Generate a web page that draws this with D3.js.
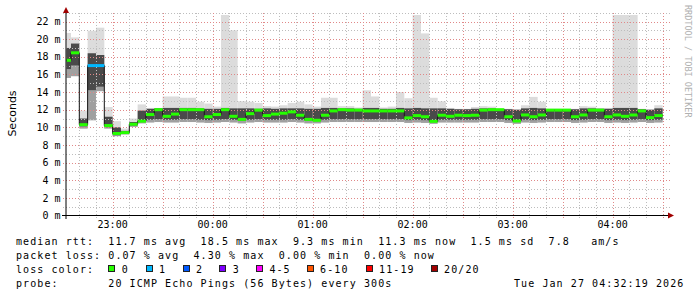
<!DOCTYPE html>
<html><head><meta charset="utf-8">
<script src="https://cdn.jsdelivr.net/npm/d3@7"></script>
<style>
body{margin:0;background:#fff}
svg{display:block}
text{white-space:pre}
</style>
</head><body><svg id="c" width="697" height="297"></svg>
<script>
// ---- data (5-minute bins, first bin ends 22:35) ----
const firstBinEnd = new Date(2026,0,26,22,35,0);
const stepMin = 5;
const medRtt = [17.6,18.45,10.3,17.0,17.0,10.2,9.3,9.4,10.35,10.7,
 11.45,12.0,11.25,11.5,12.0,12.0,12.0,11.2,11.45,12.0,
 11.25,10.9,11.55,11.95,11.33,11.5,11.6,11.75,11.37,10.9,
 10.8,11.37,11.86,12.0,11.95,11.95,11.86,11.86,11.86,11.86,
 11.86,11.07,11.33,11.2,10.68,11.37,11.25,11.37,11.33,11.37,
 11.95,12.0,12.0,11.2,10.72,11.4,11.2,11.4,11.95,11.95,
 11.95,11.2,11.4,11.95,11.95,11.2,11.4,11.25,11.4,11.86,
 11.1,11.33];
const maxRtt = [20.7,20.2,11.9,20.95,21.3,12.3,10.7,9.86,11.0,12.6,
 12.2,12.2,13.5,13.5,13.35,13.35,12.9,12.7,12.35,22.75,
 21.0,12.96,12.9,12.77,12.4,12.35,12.5,12.77,12.9,12.6,
 12.35,13.35,13.35,12.4,12.4,12.25,14.2,13.5,12.25,12.35,
 14.0,13.3,22.75,20.65,13.35,12.95,12.2,12.1,12.1,12.3,
 12.4,12.35,12.1,12.1,12.0,12.5,13.45,12.9,12.1,12.1,
 12.1,12.1,12.4,12.35,12.2,12.2,22.75,22.75,22.75,12.1,
 12.0,12.5];
const upperRtt = [19.0,19.5,11.0,18.4,18.2,11.2,10.0,9.6,10.6,11.9,
 12.1,12.15,12.2,12.2,12.2,12.2,12.15,12.1,12.1,12.2,
 12.15,12.15,12.15,12.1,12.15,12.1,12.15,12.15,12.15,12.1,
 12.1,12.2,12.2,12.15,12.15,12.1,12.2,12.2,12.1,12.1,
 12.2,12.15,12.2,12.15,12.15,12.15,12.1,12.05,12.05,12.1,
 12.15,12.15,12.05,12.05,12.0,12.15,12.2,12.15,12.05,12.05,
 12.05,12.05,12.15,12.15,12.1,12.1,12.2,12.2,12.2,12.05,
 12.0,12.15];
const lowerRtt = [16.6,17.0,10.1,14.2,14.6,10.0,9.1,9.3,10.2,10.6,
 10.85,10.9,10.85,10.85,10.9,10.9,10.85,10.8,10.85,10.9,
 10.85,10.75,10.85,10.9,10.85,10.85,10.85,10.9,10.85,10.75,
 10.7,10.85,10.9,10.9,10.9,10.9,10.9,10.9,10.9,10.9,
 10.9,10.8,10.85,10.8,10.6,10.85,10.85,10.85,10.85,10.85,
 10.9,10.9,10.9,10.8,10.6,10.85,10.8,10.85,10.9,10.9,
 10.9,10.8,10.85,10.9,10.9,10.8,10.85,10.8,10.85,10.9,
 10.8,10.85];
const minRtt = [15.6,15.8,9.86,10.8,14.1,9.86,9.0,9.2,10.05,10.45,
 10.55,10.6,10.55,10.55,10.6,10.6,10.55,10.5,10.55,10.6,
 10.55,10.45,10.55,10.6,10.55,10.55,10.55,10.6,10.55,10.45,
 10.45,10.55,10.6,10.6,10.6,10.6,10.6,10.6,10.6,10.6,
 10.6,10.5,10.55,10.5,10.4,10.55,10.55,10.55,10.55,10.55,
 10.6,10.6,10.6,10.5,10.4,10.55,10.5,10.55,10.6,10.6,
 10.6,10.5,10.55,10.6,10.6,10.5,10.55,10.5,10.55,10.6,
 10.5,10.55];
const lossPings = [0,0,0,1,1,0,0,0,0,0, 0,0,0,0,0,0,0,0,0,0,
 0,0,0,0,0,0,0,0,0,0, 0,0,0,0,0,0,0,0,0,0, 0,0,0,0,0,0,0,0,0,0,
 0,0,0,0,0,0,0,0,0,0, 0,0,0,0,0,0,0,0,0,0, 0,0];
const lossLabels = ["0","1","2","3","4-5","6-10","11-19","20/20"];
const lossLimits = [0,1,2,3,5,10,19,20];
const lossColors = ["#26ff00","#00b8ff","#0059ff","#7e00ff","#ff00ff","#ff5500","#ff0000","#a10000"];
const yTickValues = [0,2,4,6,8,10,12,14,16,18,20,22];
const statLines = [
 "median rtt:  11.7 ms avg  18.5 ms max  9.3 ms min  11.3 ms now  1.5 ms sd  7.8   am/s",
 "packet loss: 0.07 % avg  4.30 % max  0.00 % min  0.00 % now"
];
const probeLine = "probe:       20 ICMP Echo Pings (56 Bytes) every 300s";
const dateLine = "Tue Jan 27 04:32:19 2026";
const tStart = new Date(2026,0,26,22,32,19), tEnd = new Date(2026,0,27,4,32,19);

// ---- layout ----
const svg = d3.select("#c");
const X0 = 66.5, X1 = 666.5, Y0 = 215.5, PX_PER_MS = 8.818;
const x = d3.scaleTime().domain([tStart,tEnd]).range([X0,X1]);
const y = d3.scaleLinear().domain([0,23]).range([Y0, Y0-23*PX_PER_MS]);
const mono = "'DejaVu Sans Mono', monospace";

svg.append("rect").attr("width",697).attr("height",297).attr("fill","#fff");

const bins = medRtt.map((m,i)=>{
  const end = d3.timeMinute.offset(firstBinEnd, i*stepMin);
  const start = d3.timeMinute.offset(end, -stepMin);
  let li = lossLimits.findIndex(l=>lossPings[i] <= l);
  return {i, start, end, med:m, hi:maxRtt[i], up:upperRtt[i], dn:lowerRtt[i], lo:minRtt[i], color:lossColors[li]};
});

svg.append("clipPath").attr("id","plot").append("rect")
  .attr("x",X0).attr("y",15).attr("width",X1-X0).attr("height",Y0-15);

const g = svg.append("g").attr("clip-path","url(#plot)");
const bx = d=>x(d.start), bw = d=>x(d.end)-x(d.start);
// smoke
g.selectAll("rect.outer").data(bins).join("rect")
  .attr("x",bx).attr("width",bw).attr("y",d=>y(d.hi)).attr("height",d=>y(d.lo)-y(d.hi)).attr("fill","#dcdcdc");
g.selectAll("rect.low").data(bins).join("rect").attr("class","low")
  .attr("x",bx).attr("width",bw).attr("y",d=>y(d.dn)).attr("height",d=>y(d.lo)-y(d.dn)).attr("fill","#a0a0a0");
g.selectAll("rect.inner").data(bins).join("rect").attr("class","inner")
  .attr("x",bx).attr("width",bw).attr("y",d=>y(d.up)).attr("height",d=>y(d.dn)-y(d.up)).attr("fill","#4a4a4a");

// grid
const grid = svg.append("g");
d3.range(1,24).forEach(v=>{
  const major = v%2===0;
  grid.append("line").attr("x1",63).attr("x2",670).attr("y1",Math.round(y(v))+0.5).attr("y2",Math.round(y(v))+0.5)
    .attr("stroke",major?"#e08888":"#bdbdbd").attr("stroke-dasharray","1,2");
});
x.ticks(d3.timeMinute.every(10)).forEach(t=>{
  const major = t.getMinutes()%30===0;
  const px = Math.round(x(t))+0.5;
  grid.append("line").attr("x1",px).attr("x2",px).attr("y1",218).attr("y2",12.5)
    .attr("stroke",major?"#e08888":"#bdbdbd").attr("stroke-dasharray","1,2");
});

// median line
const medPath = d3.path();
bins.forEach((d,k)=>{
  const xa = Math.max(x(d.start),X0), xb = x(d.end), yy = y(d.med);
  if(k===0) medPath.moveTo(xa,yy); else medPath.lineTo(xa,yy);
  medPath.lineTo(xb,yy);
});
svg.append("path").attr("d",medPath.toString()).attr("fill","none").attr("stroke","#111").attr("stroke-width",1);
svg.selectAll("rect.med").data(bins).join("rect").attr("class","med")
  .attr("x",d=>Math.max(x(d.start),X0)).attr("width",d=>x(d.end)-Math.max(x(d.start),X0))
  .attr("y",d=>y(d.med)-1.5).attr("height",3).attr("fill",d=>d.color);

// axes
svg.append("line").attr("x1",62).attr("x2",668).attr("y1",Y0).attr("y2",Y0).attr("stroke","#000");
svg.append("line").attr("x1",66).attr("x2",66).attr("y1",219).attr("y2",12).attr("stroke","#000");
svg.append("path").attr("d","M668,212.5L674,215.5L668,218.5Z").attr("fill","#a00000");
svg.append("path").attr("d","M63,13L66,7L69,13Z").attr("fill","#a00000");

// axis labels
svg.selectAll("text.yl").data(yTickValues).join("text").attr("class","yl")
  .attr("x",60.5).attr("y",v=>y(v)+3.7).attr("text-anchor","end")
  .attr("font-family",mono).attr("font-size",10).attr("fill","#000").text(v=>v+" m");
svg.selectAll("text.xl").data(x.ticks(d3.timeHour.every(1))).join("text").attr("class","xl")
  .attr("x",d=>x(d)).attr("y",227.5).attr("text-anchor","middle")
  .attr("font-family",mono).attr("font-size",10).attr("fill","#000").text(d3.timeFormat("%H:%M"));

svg.append("text").attr("transform","translate(16,113.5) rotate(-90)").attr("text-anchor","middle")
  .attr("font-family","'DejaVu Sans', sans-serif").attr("font-size",11).attr("fill","#000").text("Seconds");
svg.append("text").attr("transform","translate(684.5,5) rotate(90)").attr("text-anchor","start")
  .attr("font-family",mono).attr("font-size",8.5).attr("fill","#b0b0b0").text("RRDTOOL / TOBI OETIKER");

// legend
const leg = svg.append("g").attr("font-family",mono).attr("font-size",10).attr("fill","#000").style("letter-spacing","1.08px");
const baselines = [244.5,258.7,272.9,287];
statLines.forEach((s,i)=>leg.append("text").attr("x",16).attr("y",baselines[i]).text(s));
leg.append("text").attr("x",16).attr("y",baselines[2]).text("loss color:");
const swX = [108.3,145.7,182.7,219.3,256,306.7,365.7,430.7];
lossLabels.forEach((l,i)=>{
  svg.append("rect").attr("x",Math.round(swX[i])+0.5).attr("y",265.5).attr("width",6).attr("height",6)
    .attr("fill",lossColors[i]).attr("stroke","#222");
  leg.append("text").attr("x",swX[i]+13.4).attr("y",baselines[2]).text(l);
});
leg.append("text").attr("x",16).attr("y",baselines[3]).text(probeLine);
leg.append("text").attr("x",514).attr("y",baselines[3]).text(dateLine);
</script>
</body></html>
